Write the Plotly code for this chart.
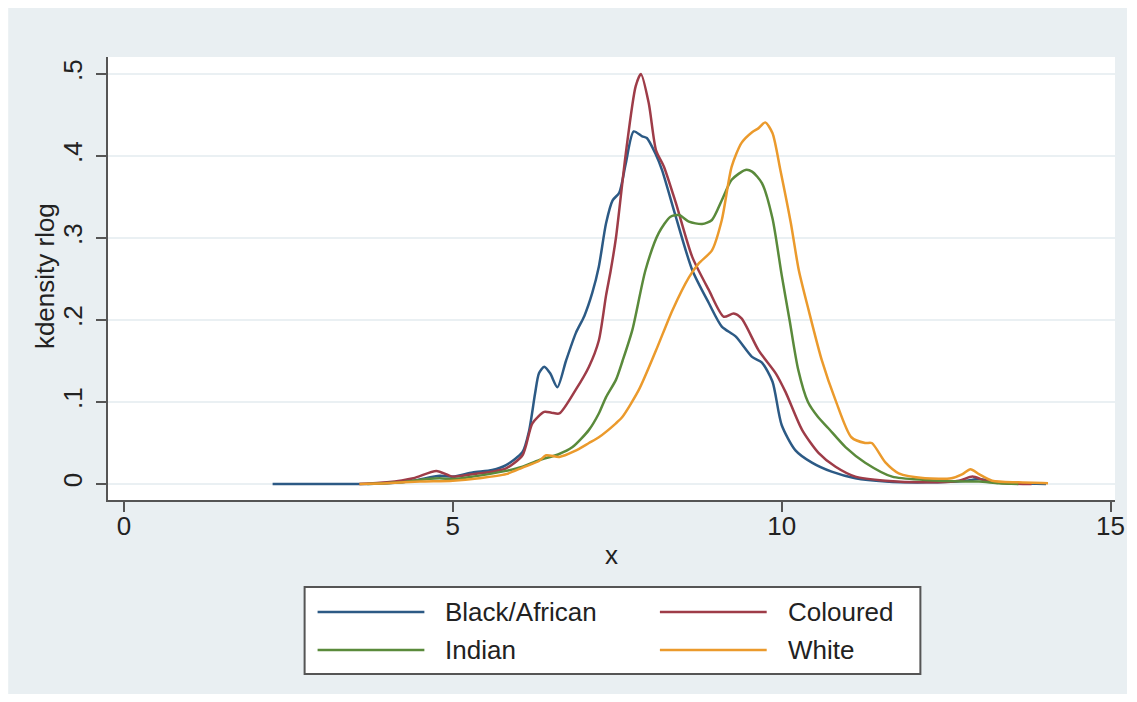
import plotly.graph_objects as go

# Kernel density estimates of rlog by population group
groups = ["Black/African", "Coloured", "Indian", "White"]
colors = ["#2c5a85", "#9e3c48", "#5a8a3b", "#eb9a2c"]

black_x = [2.26, 3.5, 4.0, 4.4, 4.8, 5.0, 5.3, 5.6, 5.81, 6.06, 6.16, 6.25, 6.31, 6.39,
           6.48, 6.59, 6.72, 6.87, 7.0, 7.12, 7.22, 7.33, 7.43, 7.53, 7.63, 7.75, 7.88,
           7.95, 8.08, 8.18, 8.39, 8.64, 8.89, 9.09, 9.30, 9.55, 9.70, 9.86, 10.0, 10.21,
           10.46, 10.76, 11.12, 11.58, 12.2, 12.8, 13.0, 13.2, 13.5, 14.02]
black_y = [0.0, 0.0, 0.001, 0.004, 0.010, 0.009, 0.014, 0.017, 0.023, 0.039, 0.065, 0.110,
           0.135, 0.143, 0.135, 0.118, 0.150, 0.184, 0.205, 0.233, 0.265, 0.318, 0.346,
           0.355, 0.391, 0.430, 0.424, 0.422, 0.403, 0.383, 0.326, 0.261, 0.221, 0.192,
           0.180, 0.155, 0.148, 0.125, 0.072, 0.041, 0.026, 0.015, 0.007, 0.003, 0.002,
           0.004, 0.006, 0.003, 0.001, 0.0]

coloured_x = [3.58, 4.0, 4.4, 4.75, 5.0, 5.3, 5.6, 5.81, 6.06, 6.21, 6.39, 6.5, 6.62, 6.87,
              7.07, 7.22, 7.33, 7.40, 7.48, 7.63, 7.78, 7.86, 7.98, 8.09, 8.21, 8.39, 8.64,
              8.89, 9.12, 9.27, 9.39, 9.65, 9.91, 10.06, 10.31, 10.56, 10.82, 11.12, 11.58,
              12.2, 12.7, 12.9, 13.1, 13.4, 13.8]
coloured_y = [0.0, 0.002, 0.007, 0.016, 0.009, 0.012, 0.015, 0.019, 0.035, 0.074, 0.088,
              0.087, 0.086, 0.115, 0.143, 0.175, 0.230, 0.260, 0.300, 0.403, 0.485, 0.500,
              0.464, 0.407, 0.387, 0.343, 0.277, 0.237, 0.204, 0.208, 0.202, 0.163, 0.135,
              0.112, 0.066, 0.038, 0.021, 0.009, 0.004, 0.002, 0.004, 0.009, 0.004, 0.001, 0.0]

indian_x = [3.7, 4.2, 4.6, 4.8, 5.0, 5.3, 5.81, 6.06, 6.31, 6.6, 6.82, 7.07, 7.22, 7.33,
            7.48, 7.58, 7.73, 7.93, 8.13, 8.31, 8.44, 8.59, 8.79, 8.94, 9.09, 9.24, 9.45,
            9.55, 9.70, 9.86, 10.0, 10.12, 10.25, 10.4, 10.55, 10.71, 10.97, 11.27, 11.68,
            12.18, 12.8, 13.0, 13.3, 13.6]
indian_y = [0.0, 0.002, 0.006, 0.007, 0.006, 0.009, 0.016, 0.021, 0.029, 0.036, 0.045,
            0.066, 0.086, 0.106, 0.127, 0.150, 0.188, 0.261, 0.306, 0.326, 0.328, 0.320,
            0.317, 0.322, 0.346, 0.371, 0.383, 0.381, 0.367, 0.324, 0.255, 0.200, 0.140,
            0.100, 0.082, 0.068, 0.045, 0.026, 0.009, 0.005, 0.003, 0.003, 0.001, 0.0]

white_x = [3.58, 4.0, 4.5, 5.0, 5.4, 5.81, 6.06, 6.31, 6.42, 6.62, 6.85, 7.07, 7.22, 7.48,
           7.58, 7.83, 8.09, 8.34, 8.59, 8.74, 8.94, 9.09, 9.24, 9.39, 9.55, 9.65, 9.75,
           9.86, 9.98, 10.14, 10.26, 10.41, 10.61, 10.82, 11.06, 11.27, 11.37, 11.58,
           11.78, 12.18, 12.58, 12.75, 12.87, 13.0, 13.2, 13.6, 14.05]
white_y = [0.0, 0.001, 0.003, 0.004, 0.007, 0.012, 0.020, 0.028, 0.035, 0.033, 0.040,
           0.050, 0.057, 0.074, 0.082, 0.115, 0.163, 0.212, 0.252, 0.269, 0.285, 0.322,
           0.387, 0.416, 0.429, 0.434, 0.441, 0.428, 0.383, 0.318, 0.261, 0.212, 0.151,
           0.102, 0.057, 0.050, 0.050, 0.026, 0.013, 0.007, 0.007, 0.012, 0.018, 0.012,
           0.004, 0.002, 0.001]

x_ticks = [0, 5, 10, 15]
y_ticks = [0, 0.1, 0.2, 0.3, 0.4, 0.5]
y_tick_text = ["0", ".1", ".2", ".3", ".4", ".5"]

series = [(black_x, black_y), (coloured_x, coloured_y), (indian_x, indian_y), (white_x, white_y)]

W, H = 1137, 702
PL, PR, PT, PB = 108, 1117, 57, 500  # plot area in pixels
FONT = "Liberation Sans"
BG = "#e9eff2"


def px_x(p):
    return (p - PL) / (PR - PL)


def px_y(p):
    return (PB - p) / (PB - PT)


fig = go.Figure()
for (xs, ys), name, col in zip(series, groups, colors):
    fig.add_trace(go.Scatter(x=xs, y=ys, mode="lines", name=name,
                             line=dict(color=col, width=2.5, shape="spline", smoothing=0.7),
                             showlegend=False))

shapes = [
    # graph region background with a thin white frame
    dict(type="rect", xref="paper", yref="paper", layer="below",
         x0=px_x(8), x1=px_x(W - 8), y0=px_y(H - 8), y1=px_y(8),
         fillcolor=BG, line=dict(width=0)),
    dict(type="rect", xref="paper", yref="paper", layer="below",
         x0=0, x1=1, y0=0, y1=1, fillcolor="white", line=dict(width=0)),
    # legend box
    dict(type="rect", xref="paper", yref="paper",
         x0=px_x(305), x1=px_x(922), y0=px_y(674), y1=px_y(587),
         fillcolor="white", line=dict(color="#555555", width=2)),
]
annotations = [
    # y-axis title
    dict(xref="paper", yref="paper", x=px_x(45), y=px_y(276), text="kdensity rlog",
         textangle=-90, showarrow=False, xanchor="center", yanchor="middle",
         font=dict(family=FONT, size=26, color="#222222")),
]
leg_cols = [(318, 425, 444), (661, 768, 787)]
leg_rows = [612, 650]
for i, (name, col) in enumerate(zip(groups, colors)):
    lx0, lx1, tx = leg_cols[i % 2]
    ry = leg_rows[i // 2]
    shapes.append(dict(type="line", xref="paper", yref="paper",
                       x0=px_x(lx0), x1=px_x(lx1), y0=px_y(ry), y1=px_y(ry),
                       line=dict(color=col, width=2.5)))
    annotations.append(dict(xref="paper", yref="paper", x=px_x(tx), y=px_y(ry),
                            text=name, showarrow=False, xanchor="left", yanchor="middle",
                            font=dict(family=FONT, size=26, color="#222222")))

fig.update_layout(
    width=W, height=H,
    margin=dict(l=PL, r=W - PR, t=PT, b=H - PB),
    paper_bgcolor="white",
    plot_bgcolor="white",
    shapes=shapes,
    annotations=annotations,
    font=dict(family=FONT, size=26, color="#222222"),
    xaxis=dict(range=[(PL - 124) / 65.9, (PR - 124) / 65.9], tickvals=x_ticks,
               showgrid=False, zeroline=False, showline=True, linecolor="#555555",
               linewidth=2, ticks="outside", ticklen=10, tickwidth=2, tickcolor="#555555",
               tickfont=dict(size=26), ticklabelstandoff=-8,
               title=dict(text="x", font=dict(size=26), standoff=6)),
    yaxis=dict(range=[-16 / 820, 0.5 + 17 / 820], tickvals=y_ticks, ticktext=y_tick_text,
               tickangle=-90, showgrid=True, gridcolor="#eaf0f3", gridwidth=2,
               zeroline=False, showline=True, linecolor="#555555", linewidth=2,
               ticks="outside", ticklen=10, tickwidth=2, tickcolor="#555555",
               tickfont=dict(size=26), ticklabelstandoff=4),
)

fig.write_html("out.html")
